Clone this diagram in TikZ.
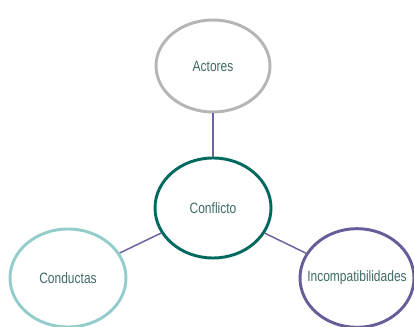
\documentclass[tikz,border=0pt]{standalone}
\usepackage{fontspec}
\setmainfont{Liberation Sans}
\newfontfamily\narrowfont[FakeStretch=0.8]{Liberation Sans}
\usetikzlibrary{shapes.geometric}
\definecolor{cgray}{HTML}{B5B5B5}
\definecolor{cteal}{HTML}{00695F}
\definecolor{clight}{HTML}{93CDCB}
\definecolor{cpurple}{HTML}{665E98}
\definecolor{cline}{HTML}{6B62A0}
\definecolor{ctext}{HTML}{3F6B66}
\tikzset{
  bubble/.style={ellipse, draw, line width=2.2pt, fill=white, inner sep=0pt},
  label text/.style={text=ctext, font=\narrowfont\fontsize{11.25pt}{13pt}\selectfont, inner sep=0pt},
  link/.style={draw=cline, line width=1.1pt}
}
\begin{document}
\begin{tikzpicture}[x=0.75pt,y=-0.75pt]
\useasboundingbox (0,0) rectangle (414,327);
\node[bubble, draw=cgray, minimum width=85.5pt, minimum height=69pt] (act) at (213,66) {};
\node[bubble, draw=cteal, minimum width=87pt, minimum height=75pt] (con) at (213,208) {};
\node[bubble, draw=clight, minimum width=87pt, minimum height=73.5pt] (cond) at (68,278) {};
\node[bubble, draw=cpurple, minimum width=85.5pt, minimum height=74pt] (inc) at (357,278) {};
\node[label text] (tact) at (act) {Actores};
\node[label text] (tcon) at (con) {Conflicto};
\node[label text] (tcond) at (cond) {Conductas};
\node[label text] (tinc) at (inc) {Incompatibilidades};
\draw[link] (act) -- (con);
\draw[link] (con) -- (cond);
\draw[link] (con) -- (inc);
\end{tikzpicture}
\end{document}
